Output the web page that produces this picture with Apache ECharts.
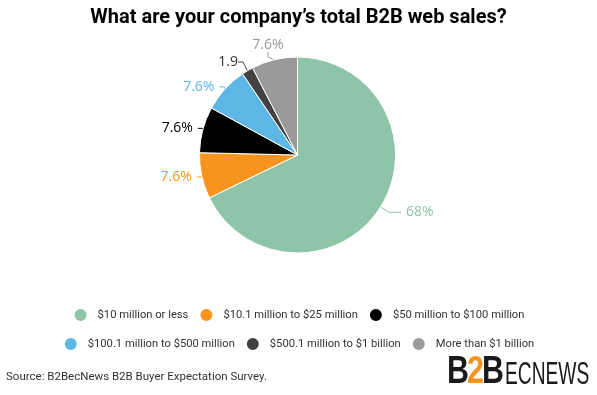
<!DOCTYPE html>
<html><head><meta charset="utf-8">
<script src="https://cdn.jsdelivr.net/npm/echarts@6/dist/echarts.min.js"></script>
<style>html,body{margin:0;padding:0;background:#fff}#c{width:597px;height:395px}</style>
</head><body><div id="c"></div>
<script>
const categories = ["$10 million or less","$10.1 million to $25 million","$50 million to $100 million","$100.1 million to $500 million","$500.1 million to $1 billion","More than $1 billion"];
const values = [68, 7.6, 7.6, 7.6, 1.9, 7.6];
const labels = ["68%","7.6%","7.6%","7.6%","1.9","7.6%"];
const colors = ["#8ec4a8","#f7941d","#000000","#5cb6e6","#424242","#9a9a9a"];

const chart = echarts.init(document.getElementById('c'));
const data = categories.map((n,i)=>({name:n,value:values[i],itemStyle:{color:colors[i]},
  label:{color: i===4 ? '#333' : colors[i]},
  labelLine: i===0 ? {length:10,length2:12,lineStyle:{color: colors[i]}} : {lineStyle:{color: colors[i]}}}));
const legendBase = {icon:'circle',itemWidth:14,itemHeight:14,itemGap:10,
  textStyle:{fontFamily:'Roboto',fontSize:11.2,color:'#333',padding:[0,0,0,5]}};
chart.setOption({
  animation:false,
  title:{text:'What are your company\u2019s total B2B web sales?',left:'center',top:3,
    textStyle:{fontFamily:'Roboto',fontWeight:'bold',fontSize:20,color:'#000'}},
  legend:[
    Object.assign({},legendBase,{data:categories.slice(0,3),top:302,left:'center'}),
    Object.assign({},legendBase,{data:categories.slice(3),top:331,left:'center'})
  ],
  series:[{type:'pie',center:[297.5,155],radius:[0,98],startAngle:90,clockwise:true,
    data:data,
    itemStyle:{borderColor:'#fff',borderWidth:1},
    label:{formatter:(p)=>labels[p.dataIndex],fontFamily:'Open Sans',fontSize:14},
    labelLine:{length:5,length2:5},
    labelLayout:function(p){
      if(p.dataIndex===5) return {x:268,y:45,align:'center',verticalAlign:'middle'};
      if(p.dataIndex===4) return {x:238,y:62,align:'right',verticalAlign:'middle'};
      return {};
    },
    emphasis:{disabled:true}
  }],
  graphic:[
    {type:'text',left:6,top:371,style:{text:'Source: B2BecNews B2B Buyer Expectation Survey.',
      font:'11.5px Roboto',fill:'#333'}},
    {type:'text',x:447,y:392,scaleX:0.8,style:{text:'B',font:'bold 38px "Liberation Sans"',fill:'#1a1a1a',verticalAlign:'bottom',textVerticalAlign:'bottom'}},
    {type:'text',x:467,y:392,scaleX:0.8,style:{text:'2',font:'bold 38px "Liberation Sans"',fill:'#f7941d',verticalAlign:'bottom',textVerticalAlign:'bottom'}},
    {type:'text',x:482,y:392,scaleX:0.8,style:{text:'B',font:'bold 38px "Liberation Sans"',fill:'#1a1a1a',verticalAlign:'bottom',textVerticalAlign:'bottom'}},
    {type:'text',x:505,y:391,scaleX:0.6,style:{text:'ECNEWS',font:'32px "Liberation Sans"',fill:'#1a1a1a',verticalAlign:'bottom',textVerticalAlign:'bottom'}}
  ]
});
</script></body></html>
